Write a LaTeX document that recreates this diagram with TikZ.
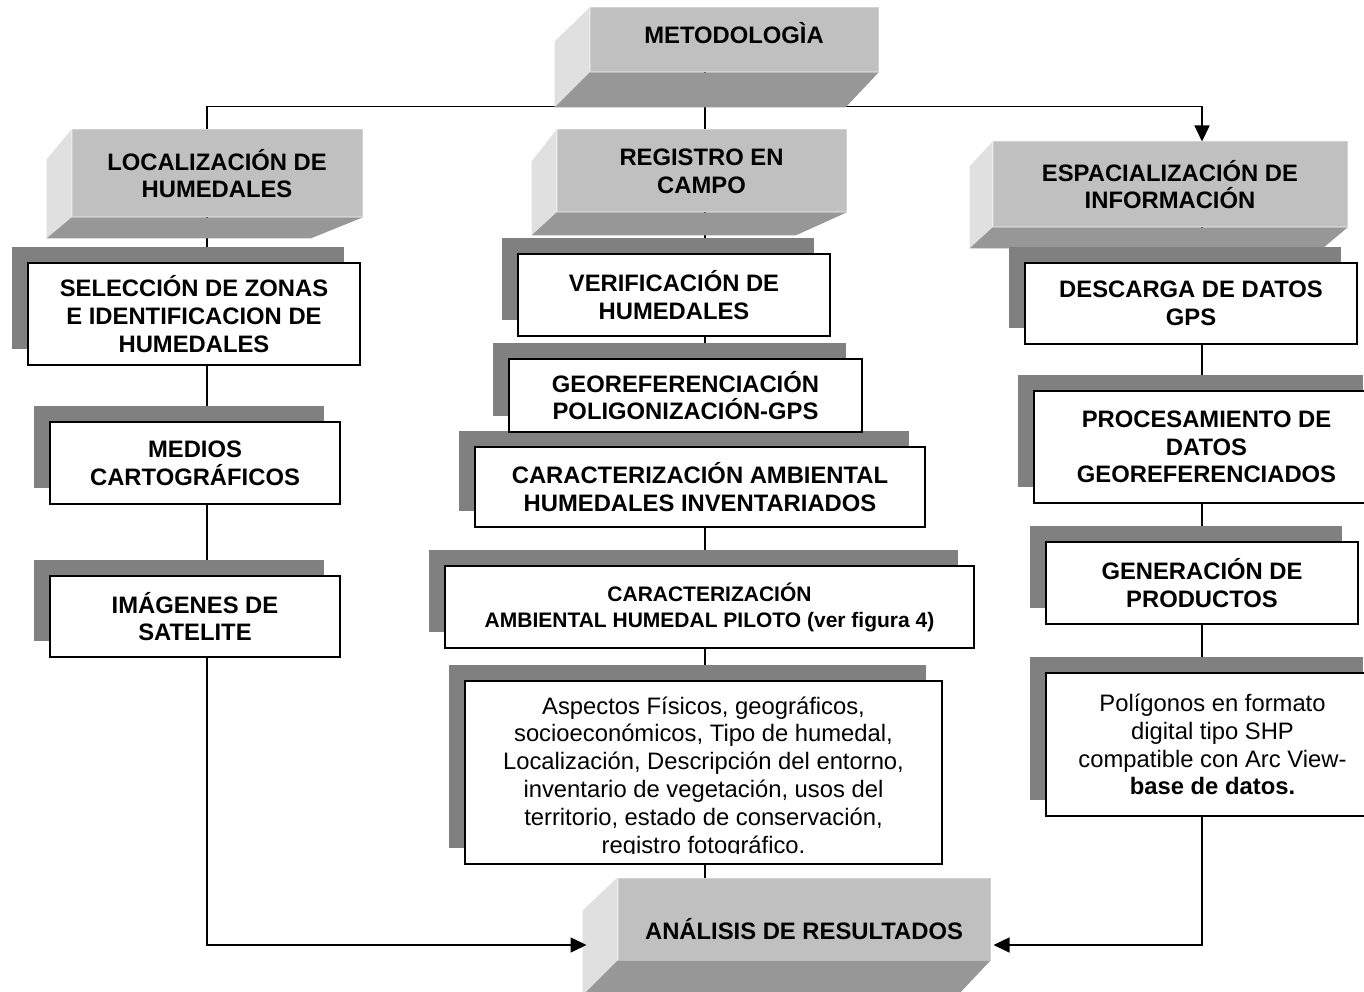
\documentclass[tikz,border=0pt]{standalone}
\usepackage{fontspec}
\setmainfont{Liberation Sans}
\usetikzlibrary{calc,shadows,arrows.meta}
\pgfdeclarelayer{background}
\pgfsetlayers{background,main}
\definecolor{frontgray}{HTML}{C0C0C0}
\definecolor{edgegray}{HTML}{D2D2D2}
\definecolor{leftgray}{HTML}{E0E0E0}
\definecolor{bottomgray}{HTML}{979797}
\definecolor{shadegray}{HTML}{808080}

\begin{document}
\begin{tikzpicture}[x=1pt,y=-1pt,
	threed/.style={fill=frontgray, draw=edgegray, line width=1pt, inner sep=0pt, align=center, font=\bfseries\fontsize{23.8}{27.8}\selectfont},
	plainbox/.style={fill=white, draw=black, line width=1.8pt, inner sep=0pt, align=center, font=\bfseries\fontsize{23.8}{27.8}\selectfont, drop shadow={shadow xshift=-16pt, shadow yshift=16pt, opacity=1, fill=shadegray}},
	bodytext/.style={inner sep=0pt, align=center, font=\fontsize{23.8}{27.8}\selectfont},
	conn/.style={line width=1.6pt},
	arr/.style={line width=1.6pt, -{Triangle[length=16pt,width=15pt]}}]
		\useasboundingbox (0,0) rectangle (1364,992);
		\clip (0,0) rectangle (1364,992);
		
		%column lines
		\coordinate (lcol) at (207,0);
		\coordinate (mcol) at (705,0);
		\coordinate (rcol) at (1202,0);
		
		%3d headers
		\node[threed, minimum width=288pt, minimum height=64pt, text height=17pt, text depth=9pt] (met) at (734,40) {METODOLOGÌA};
		\node[threed, minimum width=290pt, minimum height=87pt] (loc) at (217,173.5) {LOCALIZACIÓN DE\\HUMEDALES};
		\node[threed, minimum width=289pt, minimum height=82pt] (reg) at (701.5,171) {REGISTRO EN\\CAMPO};
		\node[threed, minimum width=354pt, minimum height=85pt] (esp) at (1170,184.5) {ESPACIALIZACIÓN DE\\INFORMACIÓN};
		\node[threed, minimum width=372pt, minimum height=82pt, text height=41pt, text depth=0pt] (ana) at (804,919) {ANÁLISIS DE RESULTADOS};
		
		%3d sides
		\fill[leftgray] (met.north west) -- ++(-35,34) -- ($(met.south west)+(-35,35)$) -- (met.south west) -- cycle;
		\fill[bottomgray] (met.south west) -- (met.south east) -- ++(-33,35) -- ($(met.south west)+(-35,35)$) -- cycle;
		\fill[leftgray] (loc.north west) -- ++(-25,30) -- ($(loc.south west)+(-25,21)$) -- (loc.south west) -- cycle;
		\fill[bottomgray] (loc.south west) -- (loc.south east) -- ++(-52,21) -- ($(loc.south west)+(-25,21)$) -- cycle;
		\fill[leftgray] (reg.north west) -- ++(-25,32) -- ($(reg.south west)+(-25,23)$) -- (reg.south west) -- cycle;
		\fill[bottomgray] (reg.south west) -- (reg.south east) -- ++(-51,23) -- ($(reg.south west)+(-25,23)$) -- cycle;
		\fill[leftgray] (esp.north west) -- ++(-23,25) -- ($(esp.south west)+(-23,21)$) -- (esp.south west) -- cycle;
		\fill[bottomgray] (esp.south west) -- (esp.south east) -- ++(-25,21) -- ($(esp.south west)+(-23,21)$) -- cycle;
		\fill[leftgray] (ana.north west) -- ++(-35,33) -- ($(ana.south west)+(-35,35)$) -- (ana.south west) -- cycle;
		\fill[bottomgray] (ana.south west) -- (ana.south east) -- ++(-33,35) -- ($(ana.south west)+(-35,35)$) -- cycle;
		
		%left column
		\node[plainbox, minimum width=332pt, minimum height=102pt] (sel) at (194,314) {SELECCIÓN DE ZONAS\\E IDENTIFICACION DE\\HUMEDALES};
		\node[plainbox, minimum width=290pt, minimum height=82pt] (med) at (195,463) {MEDIOS\\CARTOGRÁFICOS};
		\node[plainbox, minimum width=290pt, minimum height=81pt] (ima) at (195,616.5) {IMÁGENES DE\\SATELITE};
		
		%middle column
		\node[plainbox, minimum width=312pt, minimum height=82pt] (ver) at (674,295) {VERIFICACIÓN DE\\HUMEDALES};
		\node[plainbox, minimum width=450pt, minimum height=80pt] (inv) at (700,487) {CARACTERIZACIÓN AMBIENTAL\\HUMEDALES INVENTARIADOS};
		\node[plainbox, minimum width=353pt, minimum height=73pt] (geo) at (685.5,395.5) {GEOREFERENCIACIÓN\\POLIGONIZACIÓN-GPS};
		\node[plainbox, minimum width=529pt, minimum height=82pt, font=\bfseries\fontsize{21}{26}\selectfont] (pil) at (709.5,607) {CARACTERIZACIÓN\\AMBIENTAL HUMEDAL PILOTO (ver figura 4)};
		\node[plainbox, minimum width=477pt, minimum height=183pt] (asp) at (703.5,772.5) {};
		\begin{scope}
			\clip (asp.north west) rectangle ([yshift=11pt]asp.south east);
			\node[bodytext, anchor=base] (asptxt) at (703.5,853) {Aspectos Físicos, geográficos,\\socioeconómicos, Tipo de humedal,\\Localización, Descripción del entorno,\\inventario de vegetación, usos del\\territorio, estado de conservación,\\registro fotográfico.};
		\end{scope}
		
		%right column
		\node[plainbox, minimum width=332pt, minimum height=81pt] (des) at (1191,303.5) {DESCARGA DE DATOS\\GPS};
		\node[plainbox, minimum width=345pt, minimum height=112pt] (pro) at (1206.5,447) {PROCESAMIENTO DE\\DATOS\\GEOREFERENCIADOS};
		\node[plainbox, minimum width=312pt, minimum height=82pt] (gen) at (1202,583) {GENERACIÓN DE\\PRODUCTOS};
		\node[plainbox, minimum width=333pt, minimum height=143pt, font=\fontsize{23.8}{27.8}\selectfont] (pol) at (1212.5,744.5) {Polígonos en formato\\digital tipo SHP\\compatible con Arc View-\\\textbf{base de datos.}};
		
		%links
		\begin{pgfonlayer}{background}
			\draw[arr] (loc.north -| lcol) |- ([yshift=-34pt]met.south) -| (esp.north -| rcol);
			\draw[conn] (met.south -| mcol) -- (reg.north -| mcol);
			\foreach \a/\b in {loc/sel,sel/med,med/ima}
				\draw[conn] (\a.south -| lcol) -- (\b.north -| lcol);
			\foreach \a/\b in {reg/ver,ver/geo,geo/inv,inv/pil,pil/asp,asp/ana}
				\draw[conn] (\a.south -| mcol) -- (\b.north -| mcol);
			\foreach \a/\b in {esp/des,des/pro,pro/gen,gen/pol}
				\draw[conn] (\a.south -| rcol) -- (\b.north -| rcol);
		\end{pgfonlayer}
		\draw[arr] (ima.south -| lcol) |- ([xshift=-31pt,yshift=-26pt]ana.west);
		\draw[arr] (pol.south -| rcol) |- ([xshift=3pt,yshift=-26pt]ana.east);
		
\end{tikzpicture}
\end{document}
